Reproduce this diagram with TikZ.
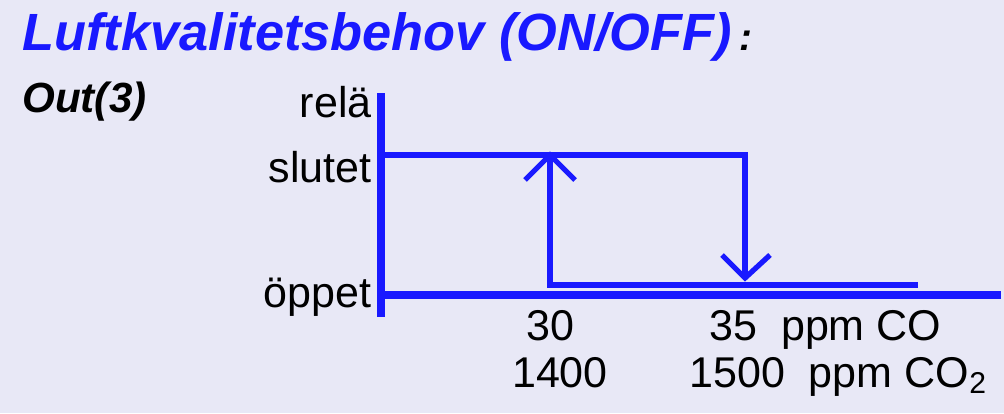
\documentclass[tikz,border=0pt]{standalone}
\usepackage{fontspec}
\setmainfont{Liberation Sans}
\usetikzlibrary{positioning}
\definecolor{bgcol}{RGB}{232,232,246}
\definecolor{linecol}{RGB}{25,25,255}
\begin{document}
\begin{tikzpicture}[
    x=0.02cm, y=-0.02cm,
    font=\fontsize{24.5}{28}\selectfont,
    axis/.style={draw=linecol, line width=4pt},
    curve/.style={draw=linecol, line width=3pt},
    tick/.style={anchor=east, inner sep=0pt},
    vallabel/.style={anchor=base, inner sep=0pt}
]
% Bakgrund
\fill[bgcol] (0,0) rectangle (1004,413);
\useasboundingbox (0,0) rectangle (1004,413);

% Rubriker
\node[anchor=base west, inner sep=0pt, text=linecol, font=\fontsize{29.8}{32}\selectfont\bfseries\itshape] (title) at (22,50) {Luftkvalitetsbehov (ON/OFF)};
\node[anchor=base west, inner sep=0pt, font=\fontsize{22}{24}\selectfont\bfseries\itshape] (colon) at (title.base east) {\,:};
\node[anchor=base west, inner sep=0pt, font=\fontsize{24}{28}\selectfont\bfseries\itshape] (out) at (22,112) {Out(3)};

% Axlar
\coordinate (origo) at (381,295);
\coordinate (ytop) at (381,93);
\coordinate (ybot) at (381,317);
\coordinate (xend) at (1001,295);
\draw[axis] (ytop) -- (ybot);
\draw[axis] (origo) -- (xend);

% Axeltexter
\node[tick] (rela) at (372,102) {relä};
\node[tick] (slutet) at (372,167) {slutet};
\node[tick] (oppet) at (372,297) {öppet};

% Hysteres
\coordinate (hi0) at (381,155);
\coordinate (hi1) at (745,155);
\coordinate (down) at (745,278);
\coordinate (up) at (550,155);
\coordinate (lo0) at (550,285);
\coordinate (lo1) at (918,285);
\draw[curve] (hi0) -- (hi1) -- (down);
\draw[curve] (up) -- (lo0) -- (lo1);
\draw[curve] (722,255) -- (down) -- (770,255);
\draw[curve] (525,180) -- (up) -- (575,180);

% Gransvarden
\node[vallabel] (v30) at (550,340) {30};
\node[vallabel] (v1400) at (560,387) {1400};
\node[vallabel, anchor=base west] (v35) at (709,340) {35\ \ ppm CO};
\node[vallabel, anchor=base west] (v1500) at (689,387) {1500\ \ ppm CO\textsubscript{2}};
\end{tikzpicture}
\end{document}
